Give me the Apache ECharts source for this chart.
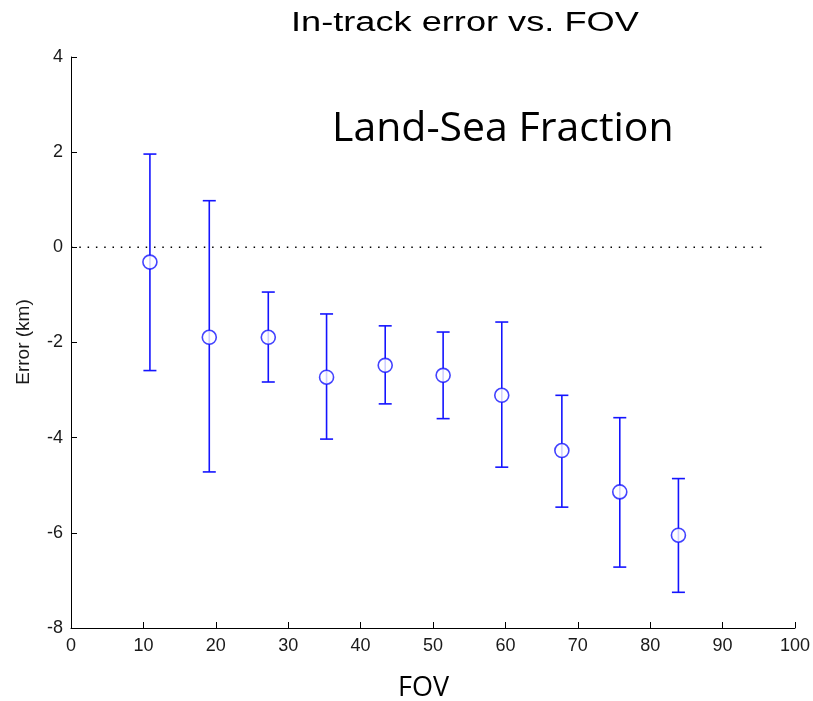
<!DOCTYPE html>
<html>
<head>
<meta charset="utf-8">
<title>In-track error vs. FOV</title>
<script src="https://cdn.jsdelivr.net/npm/echarts@6/dist/echarts.min.js"></script>
<style>
  html, body { margin: 0; padding: 0; background: #fff; }
  #chart { width: 813px; height: 701px; }
</style>
</head>
<body>
<div id="chart"></div>
<script>
// FOV positions and in-track error (km): mean, upper and lower bar ends
const fov = [10.9, 19.1, 27.25, 35.3, 43.4, 51.4, 59.5, 67.8, 75.8, 83.9]
const errMean = [-0.31, -1.89, -1.89, -2.73, -2.48, -2.69, -3.11, -4.27, -5.14, -6.05]
const errHigh = [1.96, 0.98, -0.94, -1.40, -1.65, -1.78, -1.57, -3.11, -3.58, -4.86]
const errLow = [-2.59, -4.72, -2.83, -4.03, -3.29, -3.60, -4.62, -5.46, -6.72, -7.25]
const zeroLine = [[0, 0], [95.6, 0]]
const xTicks = [0, 10, 20, 30, 40, 50, 60, 70, 80, 90, 100]
const yTicks = [-8, -6, -4, -2, 0, 2, 4]

const blue = '#1414ff'
const tickFont = 'Liberation Sans'

let chart = echarts.init(document.getElementById('chart'), null, { renderer: 'canvas' })

let barData = fov.map((x, i) => [x, errLow[i], errHigh[i]])
let pointData = fov.map((x, i) => [x, errMean[i]])

let option = {
  animation: false,
  backgroundColor: '#fff',
  grid: {
    left: 71,
    right: 17,
    top: 57,
    bottom: 73,
  },
  graphic: [
    {
      // title, a bit wider than plain Arial like in the slide
      type: 'text',
      left: 291,
      top: 10,
      scaleX: 1.34,
      style: {
        text: 'In-track error vs. FOV',
        font: '27px "Liberation Sans"',
        fill: '#000',
      },
    },
    {
      type: 'text',
      left: 332,
      top: 109,
      style: {
        text: 'Land-Sea Fraction',
        font: '41px "Open Sans"',
        fill: '#000',
      },
    },
    {
      type: 'text',
      left: 398,
      top: 675,
      style: {
        text: 'FOV',
        font: '27px "Open Sans"',
        fill: '#000',
      },
    },
    {
      type: 'text',
      x: 24,
      y: 342,
      rotation: Math.PI / 2,
      style: {
        text: 'Error (km)',
        font: '19px "Liberation Sans"',
        fill: '#1a1a1a',
        align: 'center',
        verticalAlign: 'middle',
      },
    },
  ],
  xAxis: {
    type: 'value',
    min: 0,
    max: 100,
    interval: 10,
    splitLine: { show: false },
    axisLine: { show: true, onZero: false, lineStyle: { color: '#000', width: 1 } },
    axisTick: { show: true, inside: true, length: 6, lineStyle: { color: '#000' } },
    axisLabel: {
      margin: 9,
      color: '#1a1a1a',
      fontFamily: tickFont,
      fontSize: 18,
      formatter: (v) => (xTicks.includes(v) ? String(v) : ''),
    },
  },
  yAxis: {
    type: 'value',
    min: -8,
    max: 4,
    interval: 2,
    splitLine: { show: false },
    axisLine: { show: true, onZero: false, lineStyle: { color: '#000', width: 1 } },
    axisTick: { show: true, inside: true, length: 6, lineStyle: { color: '#000' } },
    axisLabel: {
      margin: 8,
      color: '#1a1a1a',
      fontFamily: tickFont,
      fontSize: 18,
      formatter: (v) => (yTicks.includes(v) ? String(v) : ''),
    },
  },
  series: [
    {
      name: 'zero',
      type: 'line',
      data: zeroLine,
      symbol: 'none',
      silent: true,
      lineStyle: { color: '#000', width: 1.5, type: [1.5, 6.8] },
      z: 1,
    },
    {
      name: 'error bars',
      type: 'custom',
      data: barData,
      z: 2,
      renderItem: function (params, api) {
        let x = api.value(0)
        let lo = api.coord([x, api.value(1)])
        let hi = api.coord([x, api.value(2)])
        let half = 6.5
        let style = { stroke: blue, lineWidth: 1.6, fill: null }
        return {
          type: 'group',
          children: [
            { type: 'line', shape: { x1: lo[0], y1: lo[1], x2: hi[0], y2: hi[1] }, style: style },
            { type: 'line', shape: { x1: hi[0] - half, y1: hi[1], x2: hi[0] + half, y2: hi[1] }, style: style },
            { type: 'line', shape: { x1: lo[0] - half, y1: lo[1], x2: lo[0] + half, y2: lo[1] }, style: style },
          ],
        }
      },
    },
    {
      name: 'mean',
      type: 'scatter',
      data: pointData,
      symbol: 'circle',
      symbolSize: 14,
      itemStyle: { color: '#fff', borderColor: blue, borderWidth: 1.6 },
      z: 3,
    },
  ],
}
chart.setOption(option, true)
</script>
</body>
</html>
